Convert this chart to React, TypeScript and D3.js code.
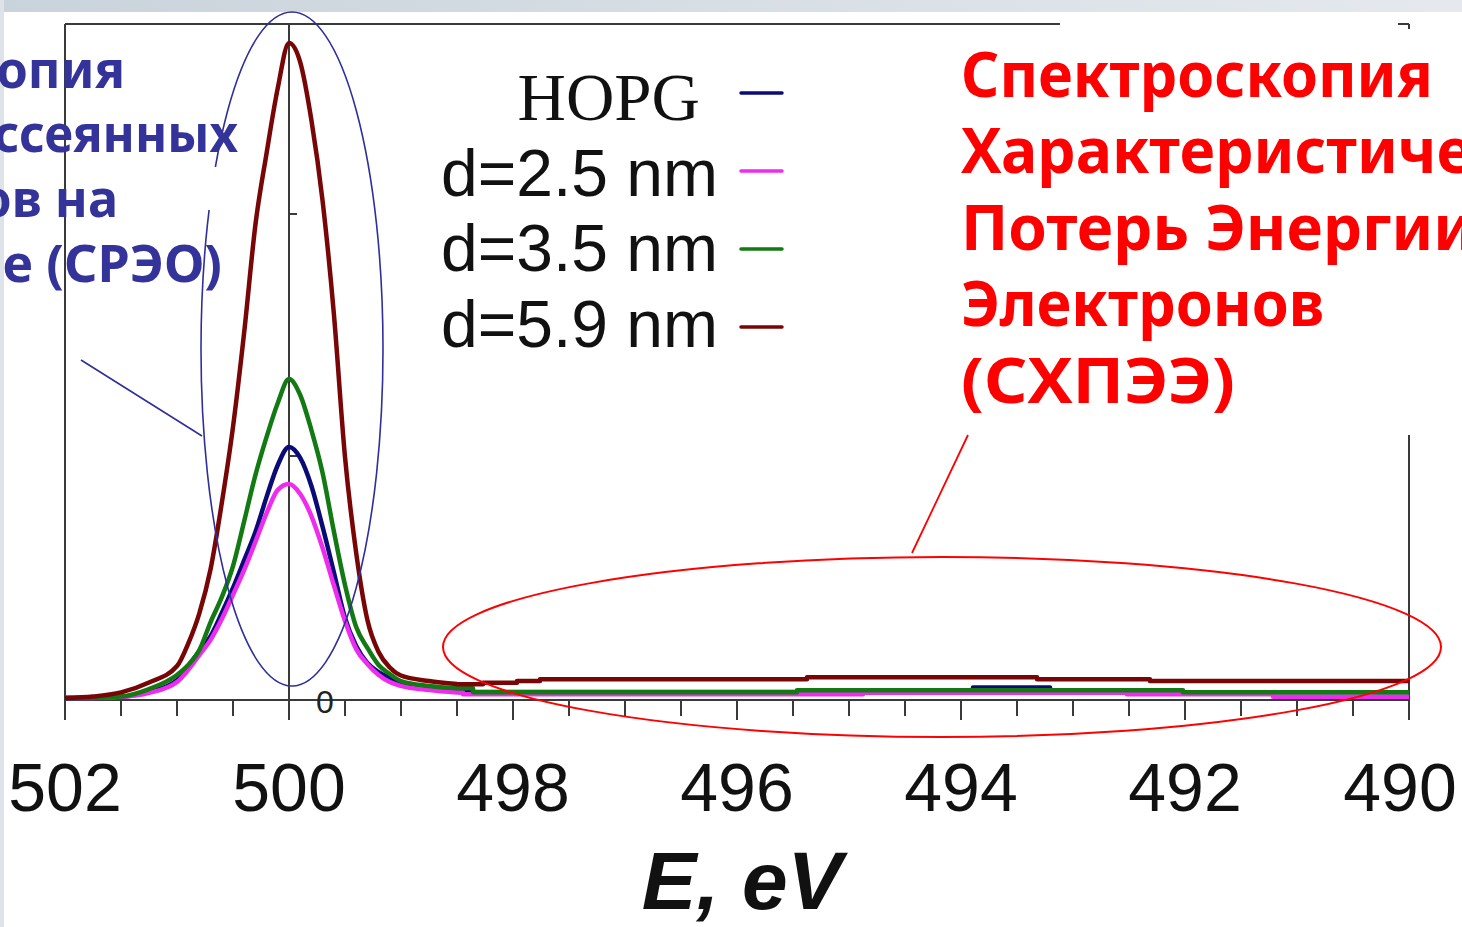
import React from "react";
import * as d3 from "d3";

// ---------- data ----------
const peakEnergy = [502, 501.75, 501.5, 501.25, 501, 500.9, 500.8, 500.7, 500.6, 500.5, 500.4, 500.3, 500.2, 500.1, 500, 499.9, 499.8, 499.7, 499.6, 499.5, 499.4, 499.3, 499.2, 499.1, 499, 498.75, 498.5];

const hopgPeak = [0, 0, 0.004, 0.025, 0.074, 0.132, 0.194, 0.256, 0.351, 0.455, 0.57, 0.686, 0.831, 0.963, 1.037, 0.992, 0.876, 0.707, 0.521, 0.331, 0.215, 0.145, 0.107, 0.083, 0.062, 0.045, 0.033];
const d25Peak = [0, 0, 0.004, 0.021, 0.066, 0.116, 0.178, 0.24, 0.326, 0.426, 0.529, 0.645, 0.764, 0.86, 0.884, 0.843, 0.752, 0.62, 0.467, 0.318, 0.202, 0.14, 0.095, 0.066, 0.05, 0.033, 0.023];
const d35Peak = [0, 0, 0.006, 0.037, 0.095, 0.136, 0.198, 0.314, 0.417, 0.545, 0.731, 0.921, 1.079, 1.219, 1.318, 1.252, 1.107, 0.93, 0.69, 0.467, 0.293, 0.207, 0.136, 0.099, 0.07, 0.05, 0.04];
const d59Peak = [0, 0.006, 0.023, 0.064, 0.132, 0.225, 0.351, 0.533, 0.806, 1.12, 1.512, 1.955, 2.252, 2.521, 2.707, 2.628, 2.388, 2.054, 1.591, 0.996, 0.599, 0.322, 0.19, 0.126, 0.093, 0.07, 0.058];

// loss-region plateaus: boundaries (eV) and level between consecutive boundaries
const hopgTailE = [498.5, 493.893, 493.205, 490];
const hopgTailV = [0.025, 0.043, 0.024];
const d25TailE = [498.5, 498.446, 494.875, 492.518, 491.214, 490];
const d25TailV = [0.023, 0.015, 0.022, 0.015, 0.005];
const d35TailE = [498.5, 498.357, 495.464, 492.018, 490];
const d35TailV = [0.04, 0.024, 0.032, 0.024];
const d59TailE = [498.5, 498.268, 497.964, 497.759, 495.375, 493.321, 492.313, 490];
const d59TailV = [0.057, 0.063, 0.07, 0.077, 0.086, 0.077, 0.07];

const seriesNames = ["HOPG", "d=2.5 nm", "d=3.5 nm", "d=5.9 nm"];
const seriesColors = ["#0b0b78", "#ee2cee", "#137a13", "#780606"];

const xTickLabels = [502, 500, 498, 496, 494, 492, 490];
const yTickValues = [1, 2];

const blueLines = ["Спектроскопия", "Рассеянных", "Электронов на", "Отражение (СРЭО)"];
const redLines = ["Спектроскопия", "Характеристических", "Потерь Энергии", "Электронов", "(СХПЭЭ)"];

// ---------- layout ----------
const W = 1462;
const H = 927;
const HAND = '"Comic Sans MS", "Noto Sans", "DejaVu Sans", sans-serif';
const SANS = '"Liberation Sans", Arial, sans-serif';
const SERIF = '"Liberation Serif", "Times New Roman", serif';

export default function App() {
  const x = d3.scaleLinear().domain([502, 490]).range([65, 1409]);
  const y = d3.scaleLinear().domain([0, 1]).range([698, 456]);
  const axisY = 700;
  const frameTop = 24;

  const peakLine = d3
    .line<[number, number]>()
    .x((d) => x(d[0]))
    .y((d) => y(d[1]))
    .curve(d3.curveMonotoneX);
  const tailLine = d3
    .line<[number, number]>()
    .x((d) => x(d[0]))
    .y((d) => y(d[1]));

  const build = (peak: number[], tE: number[], tV: number[]) => {
    const p: [number, number][] = peakEnergy.map((e, i) => [e, peak[i]]);
    const t: [number, number][] = [[peakEnergy[peakEnergy.length - 1], peak[peak.length - 1]]];
    tV.forEach((v, i) => {
      t.push([tE[i], v]);
      t.push([tE[i + 1], v]);
    });
    return { p, t };
  };

  const series = [
    build(hopgPeak, hopgTailE, hopgTailV),
    build(d25Peak, d25TailE, d25TailV),
    build(d35Peak, d35TailE, d35TailV),
    build(d59Peak, d59TailE, d59TailV),
  ];

  const minorTicks = d3.range(490, 502.001, 0.5);
  const redScale = [0.96, 0.98, 1.0, 0.96, 1.09];
  const blueEnd = [125, 238, 118, 222];
  const blueScale = [0.97, 0.95, 0.97, 1.0];

  return (
    <svg
      width={W}
      height={H}
      viewBox={`0 0 ${W} ${H}`}
      style={{ position: "absolute", left: 0, top: 0, display: "block" }}
    >
      <defs>
        <linearGradient id="topband" x1="0" x2="1" y1="0" y2="0">
          <stop offset="0" stopColor="#c9d3db" />
          <stop offset="1" stopColor="#e5e9ed" />
        </linearGradient>
      </defs>
      <rect x={0} y={0} width={W} height={H} fill="#ffffff" />
      <rect x={0} y={0} width={W} height={12} fill="url(#topband)" />
      <rect x={0} y={0} width={4} height={H} fill="#dde3e8" />

      {/* frame */}
      <g stroke="#3a3a3a" strokeWidth={2} fill="none">
        <line x1={x(502)} x2={x(490)} y1={frameTop} y2={frameTop} />
        <line x1={x(502)} x2={x(502)} y1={frameTop} y2={axisY + 20} />
        <line x1={x(490)} x2={x(490)} y1={frameTop} y2={axisY + 20} />
        <line x1={x(500)} x2={x(500)} y1={frameTop} y2={axisY + 20} />
        <line x1={x(502)} x2={x(490)} y1={axisY} y2={axisY} />
        {minorTicks.map((t) => (
          <line
            key={t}
            x1={x(t)}
            x2={x(t)}
            y1={axisY}
            y2={axisY + (Math.abs(t % 2) < 1e-6 ? 20 : 16)}
          />
        ))}
        {yTickValues.map((v) => (
          <line key={v} x1={x(500)} x2={x(500) + 8} y1={y(v)} y2={y(v)} />
        ))}
      </g>
      <text x={325} y={713} fontFamily={SANS} fontSize={32} fill="#222" textAnchor="middle">
        0
      </text>

      {/* curves */}
      <g fill="none" strokeWidth={4.5} strokeLinejoin="round" strokeLinecap="butt">
        {series.map((s, i) => (
          <g key={i} stroke={seriesColors[i]}>
            <path d={peakLine(s.p) || ""} />
            <path d={tailLine(s.t) || ""} />
          </g>
        ))}
      </g>

      {/* x tick labels */}
      {xTickLabels.map((t) => (
        <text
          key={t}
          x={Math.min(x(t), 1400)}
          y={811}
          fontFamily={SANS}
          fontSize={68}
          fill="#111"
          textAnchor="middle"
        >
          {t}
        </text>
      ))}
      <text
        x={742}
        y={909}
        fontFamily={SANS}
        fontSize={82}
        fontWeight="bold"
        fontStyle="italic"
        fill="#111"
        textAnchor="middle"
      >
        E, eV
      </text>

      {/* legend */}
      {seriesNames.map((n, i) => {
        const base = 120 + i * 75.7;
        return (
          <g key={n}>
            <text
              x={i === 0 ? 700 : 718}
              y={base}
              fontFamily={i === 0 ? SERIF : SANS}
              fontSize={i === 0 ? 67 : 66}
              fill="#111"
              textAnchor="end"
            >
              {n}
            </text>
            <line
              x1={741}
              x2={782}
              y1={93 + i * 78}
              y2={93 + i * 78}
              stroke={seriesColors[i]}
              strokeWidth={3.5}
              strokeLinecap="round"
            />
          </g>
        );
      })}

      {/* annotations */}
      <ellipse cx={292} cy={349} rx={91} ry={337} fill="none" stroke="#2f2f9c" strokeWidth={1.6} />
      <rect x={203} y={167} width={22} height={43} fill="#ffffff" />
      <line x1={81} y1={360} x2={202} y2={436} stroke="#2f2f9c" strokeWidth={1.6} />

      <ellipse cx={942} cy={647} rx={499} ry={90} fill="none" stroke="#ff0000" strokeWidth={2} />
      <line x1={968} y1={435} x2={912} y2={553} stroke="#ff0000" strokeWidth={1.8} />

      {/* white text box on the right */}
      <rect x={1060} y={16} width={338} height={419} fill="#ffffff" />
      <rect x={1398} y={29} width={64} height={406} fill="#ffffff" />

      {/* blue text (left) */}
      {blueLines.map((t, i) => (
        <text
          key={i}
          x={0}
          y={88 + i * 64.5}
          transform={`translate(${blueEnd[i]},0) scale(${blueScale[i]},1)`}
          fontFamily={HAND}
          fontSize={52}
          fontWeight="bold"
          fill="#333399"
          textAnchor="end"
        >
          {t}
        </text>
      ))}

      {/* red text (right) */}
      {redLines.map((t, i) => (
        <text
          key={i}
          x={0}
          y={97 + i * 76.5}
          transform={`translate(961,0) scale(${redScale[i]},1)`}
          fontFamily={HAND}
          fontSize={62}
          fontWeight="bold"
          fill="#ff0000"
        >
          {t}
        </text>
      ))}
    </svg>
  );
}
